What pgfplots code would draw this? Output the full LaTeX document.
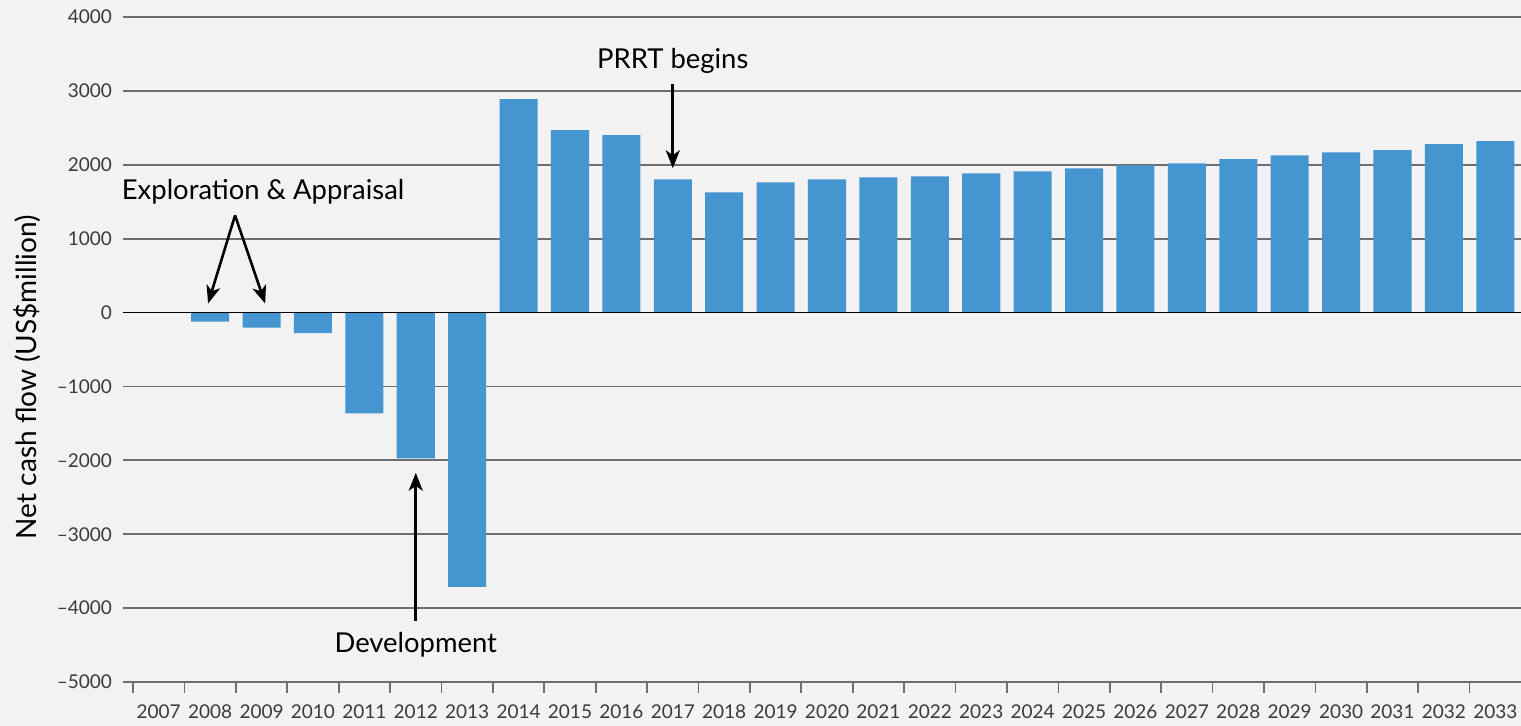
\documentclass[border=0pt]{standalone}
\usepackage{fontspec}
\setmainfont{Lato}
\usepackage{pgfplots}
\pgfplotsset{compat=1.18}
\usetikzlibrary{arrows.meta}
\definecolor{bg}{HTML}{F2F2F2}
\definecolor{barblue}{RGB}{69,150,208}
\definecolor{gridgray}{HTML}{6E6E6E}
\definecolor{ticktext}{HTML}{3A3A3A}
\begin{document}
\begin{tikzpicture}
\fill[bg] (-61.5pt,-22pt) rectangle (699pt,341pt);
\path[use as bounding box] (-61.5pt,-22pt) rectangle (699pt,341pt);
\begin{axis}[
  at={(0,0)}, anchor=south west,
  scale only axis,
  width=699pt, height=332.5pt,
  xmin=-0.695, xmax=26.5,
  ymin=-5000, ymax=4000,
  axis line style={draw=none},
  ymajorgrids=true,
  major grid style={gridgray, line width=0.85pt},
  ytick={-5000,-4000,-3000,-2000,-1000,0,1000,2000,3000,4000},
  yticklabels={\textendash5000,\textendash4000,\textendash3000,\textendash2000,\textendash1000,0,1000,2000,3000,4000},
  xtick={0,...,26},
  xticklabels={2007,2008,2009,2010,2011,2012,2013,2014,2015,2016,2017,2018,2019,2020,2021,2022,2023,2024,2025,2026,2027,2028,2029,2030,2031,2032,2033},
  minor xtick={-0.5,0.5,...,25.5},
  major tick length=0pt,
  minor tick length=5.5pt,
  tick align=outside,
  xtick pos=bottom, ytick pos=left,
  tick style={gridgray, line width=0.85pt},
  /pgf/number format/assume math mode=true,
  ticklabel style={font=\fontsize{9.5}{11}\selectfont, text=ticktext},
  xticklabel style={yshift=-8pt},
  yticklabel style={xshift=-2pt},
  ylabel={Net cash flow (US\$million)},
  ylabel style={at={(axis description cs:-0.0687,0.4586)}, anchor=center, font=\fontsize{14}{16}\selectfont},
  clip=false,
]
\addplot[ybar, bar width=0.74, fill=barblue, draw=none] coordinates {
(0,0) (1,-122) (2,-203) (3,-280) (4,-1365) (5,-1975) (6,-3711)
(7,2888) (8,2468) (9,2400) (10,1803) (11,1627) (12,1763) (13,1803)
(14,1830) (15,1844) (16,1885) (17,1912) (18,1953) (19,1993) (20,2020)
(21,2075) (22,2129) (23,2169) (24,2197) (25,2278) (26,2319)
};
\draw[black, line width=0.9pt] (axis cs:-0.695,0) -- (axis cs:26.5,0);
% annotations
\tikzset{annarrow/.style={line width=1.3pt, -{Stealth[length=9pt,width=7pt,inset=2.5pt]}}}
\node[font=\fontsize{13.7}{16}\selectfont] at (axis cs:10,3400) {PRRT begins};
\draw[annarrow] (axis cs:10,3092) -- (axis cs:10,1953);
\node[font=\fontsize{13.7}{16}\selectfont] at (axis cs:2.03,1640) {Exploration \& Appraisal};
\draw[annarrow] (axis cs:1.485,1315) -- (axis cs:0.96,122);
\draw[annarrow] (axis cs:1.485,1315) -- (axis cs:2.07,122);
\node[font=\fontsize{13.7}{16}\selectfont] at (axis cs:5,-4500) {Development};
\draw[annarrow] (axis cs:5,-4176) -- (axis cs:5,-2169);
\end{axis}
\end{tikzpicture}
\end{document}
